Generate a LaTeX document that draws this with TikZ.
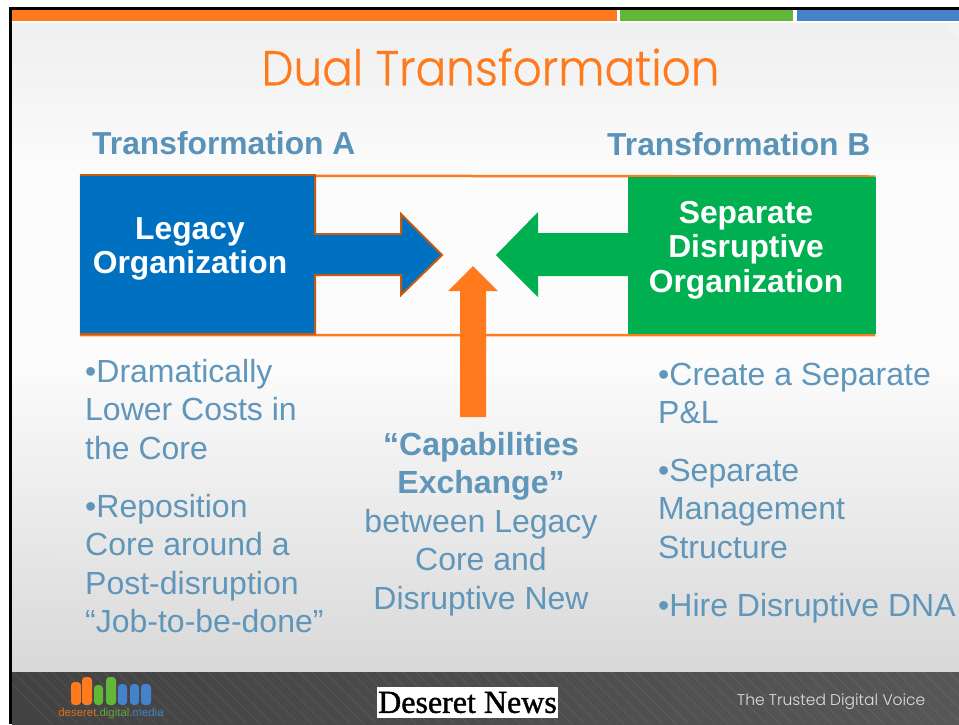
\documentclass[tikz,border=0pt]{standalone}
\usepackage{fontspec}
\setmainfont{Liberation Sans}
\newfontfamily\titlefont[FakeBold=0.35]{Poppins Light}
\newfontfamily\voicefont{Poppins Light}
\newfontfamily\newsfont[FakeBold=1.2]{Liberation Serif}
\usetikzlibrary{shadings}
\definecolor{txtblue}{HTML}{5F96BA}
\definecolor{headblue}{HTML}{5B93B8}
\definecolor{oorange}{HTML}{FF7A1C}
\definecolor{dorange}{HTML}{C55A11}
\definecolor{bblue}{HTML}{0070C0}
\definecolor{ggreen}{HTML}{00B050}
\definecolor{barred}{HTML}{FF7A1C}
\definecolor{bargreen}{HTML}{62B739}
\definecolor{barblue}{HTML}{4482CB}
\tikzset{
  x=1pt,y=-1pt,
  body/.style={inner sep=0pt,anchor=north west,align=left,text=txtblue,font=\fontsize{32}{38.5}\selectfont},
  center body/.style={inner sep=0pt,anchor=north,align=center,text=txtblue,font=\fontsize{32}{38.5}\selectfont},
  head/.style={inner sep=0pt,text=headblue,font=\fontsize{31.8}{36}\selectfont\bfseries},
  boxlabel/.style={inner sep=0pt,align=center,text=white,font=\fontsize{31.8}{34.5}\selectfont\bfseries},
  logobar/.style={rounded corners=3.5pt},
}
\begin{document}
\begin{tikzpicture}
\useasboundingbox (0,0) rectangle (959,724);
\fill[white] (0,0) rectangle (959,724);
% background
\shade[top color=black!5,bottom color=white] (10,23) rectangle (959,180);
\fill[white] (10,180) rectangle (959,360);
\shade[top color=white,bottom color=black!14] (10,360) rectangle (959,672);
\begin{scope}
\clip (10,23) rectangle (959,672);
\foreach \k in {0,4,...,1640} \draw[black,opacity=.025,line width=1.4pt] (\k-700,23) -- (\k,723);
\end{scope}
% frame and top bars
\fill[black] (9,7) rectangle (959,10);
\fill[black] (9,7) rectangle (12,724);
\fill[oorange] (12,10) rectangle (617,21);
\fill[bargreen] (620,10) rectangle (793,21);
\fill[barblue] (797,10) rectangle (959,21);
% footer
\shade[left color=black!74,right color=black!66] (12,672) rectangle (959,724);
\begin{scope}
\clip (12,672) rectangle (959,724);
\foreach \k in {0,13,...,1040} \draw[white,opacity=.07,line width=1pt] (\k,672) -- (\k+52,724);
\end{scope}
% title
\node (title) [inner sep=0pt,xscale=.925,text=oorange,font=\titlefont\fontsize{49}{55}\selectfont] at (490.5,67) {Dual Transformation};
% headings
\node (headA) [head,anchor=base west] at (92,154) {Transformation A};
\node (headB) [head,anchor=base west] at (607,155) {Transformation B};
% boxes
\draw[oorange,line width=2.5pt] (81,175.5) -- (874,176.5) -- (874,335) -- (81,335) -- cycle;
\fill[ggreen] (628,177.2) rectangle (875.5,334);
\fill[ggreen] (628,233) -- (538,233) -- (538,212) -- (496,255) -- (538,297) -- (538,276) -- (628,276) -- cycle;
\draw[dorange,line width=2pt,fill=bblue,line join=miter]
  (81,175) -- (315,175) -- (315,234) -- (401,234) -- (401,214) -- (442,255) -- (401,295) -- (401,275) -- (315,275) -- (315,334) -- (81,334) -- cycle;
\fill[bblue] (80,176) rectangle (314,333);
\fill[bblue] (310,235) rectangle (401,274);
\fill[oorange] (460,417) -- (460,291) -- (448,291) -- (473,266) -- (498,291) -- (486,291) -- (486,417) -- cycle;
% box labels
\node (legacy) [boxlabel] at (190,249) {Legacy\\Organization};
\node (separate) [boxlabel] at (746,250) {Separate\\Disruptive\\Organization};
% bullets
\node (l1) [body] at (85,359) {•Dramatically\\Lower Costs in\\the Core};
\node (l2) [body] at (85,494) {•Reposition\\Core around a\\Post-disruption\\“Job-to-be-done”};
\node (c1) [center body] at (481,432) {\textbf{“Capabilities}\\\textbf{Exchange”}\\between Legacy\\Core and\\Disruptive New};
\node (r1) [body] at (658,362.5) {•Create a Separate\\P\&L};
\node (r2) [body] at (658,458.5) {•Separate\\Management\\Structure};
\node (r3) [body] at (658,593.5) {•Hire Disruptive DNA};
% logo
\foreach \a/\b/\t/\c in {71/81/682/barred,82/92/677/barred,94/103/685/bargreen,106/116/677/bargreen,118/127/684/barblue,130/139/684/barblue,141/151/684/barblue}{
  \fill[\c,logobar] (\a,\t) rectangle (\b,705);
}
\node (logotext) [inner sep=0pt,font=\fontsize{11.4}{14}\selectfont] at (111,714) {\textcolor[HTML]{E0701C}{deseret.}\textcolor[HTML]{62A739}{digital.}\textcolor[HTML]{4482CB}{media}};
% Deseret News
\node (news) [fill=white,minimum width=181pt,minimum height=31pt,inner sep=0pt,font=\newsfont\fontsize{32}{34}\selectfont] at (467.5,702.5) {Deseret News};
\node (voice) [inner sep=0pt,anchor=west,text=black!12,font=\voicefont\fontsize{15.5}{18}\selectfont] at (737,702) {The Trusted Digital Voice};
\end{tikzpicture}
\end{document}
